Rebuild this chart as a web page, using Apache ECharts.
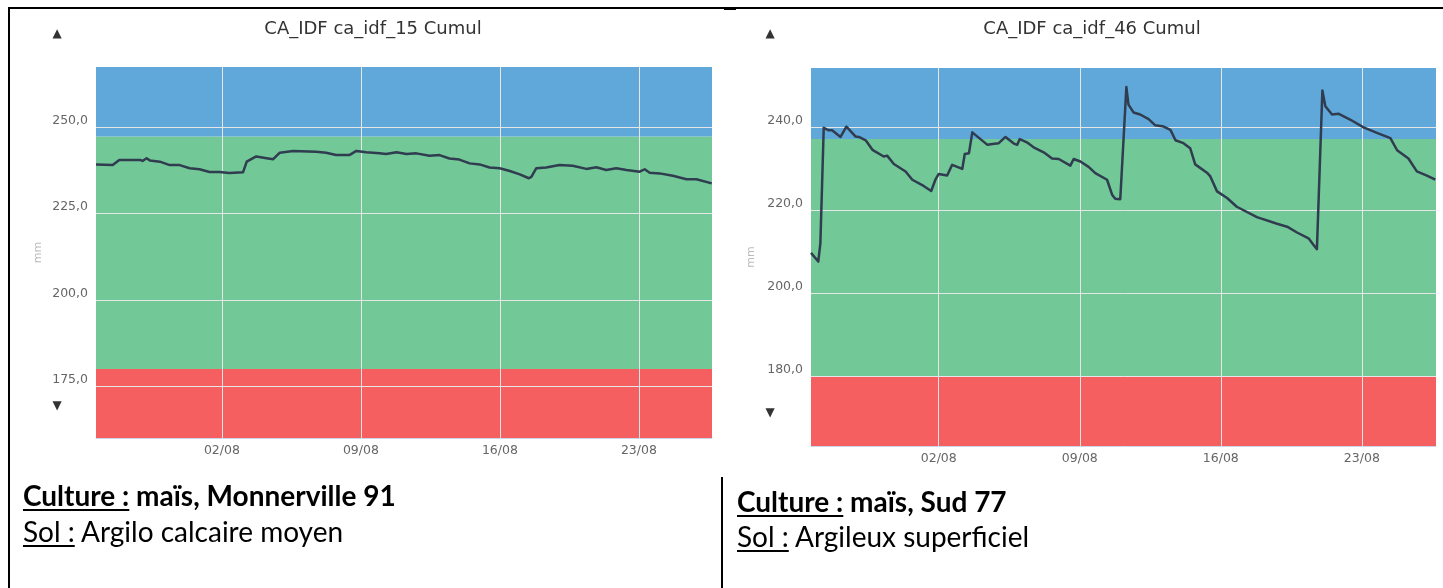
<!DOCTYPE html>
<html lang="fr">
<head>
<meta charset="UTF-8">
<title>CA_IDF Cumul</title>
<script src="https://cdn.jsdelivr.net/npm/echarts@6/dist/echarts.min.js"></script>
<style>
body{margin:0;background:#fff;overflow:hidden}
#main{position:absolute;left:0;top:0;width:1443px;height:588px}
.ln{position:absolute;background:#000}
.cap{position:absolute;font-family:Lato,'Open Sans',sans-serif;font-size:28px;line-height:36px;color:#000;white-space:nowrap}
.cap u{text-decoration-thickness:2px;text-underline-offset:3px}
</style>
</head>
<body>
<div id="main"></div>
<div class="ln" style="left:8px;top:7px;width:1435px;height:2px"></div>
<div class="ln" style="left:8px;top:7px;width:2px;height:581px"></div>
<div class="ln" style="left:721px;top:477px;width:2px;height:111px"></div>
<div class="ln" style="left:724px;top:8px;width:12px;height:2px"></div>
<div class="cap" style="left:23px;top:477px"><b><u>Culture :</u> maïs, Monnerville 91</b><br><u>Sol :</u> Argilo calcaire moyen</div>
<div class="cap" style="left:737px;top:484px;line-height:35px"><b><u>Culture :</u> maïs, Sud 77</b><br><u>Sol :</u> Argileux superficiel</div>
<script type="text/javascript">
// ---- data ----
var xTickDates = ['2019-08-02 00:00', '2019-08-09 00:00', '2019-08-16 00:00', '2019-08-23 00:00'];
var xStart = '2019-07-26 15:50';
var xEnd = '2019-08-26 16:20';

var leftTitle = 'CA_IDF ca_idf_15 Cumul';
var leftYTicks = [175, 200, 225, 250];
var leftBands = [160, 180, 247.3, 267.4];   // rouge / vert / bleu
var leftTimes = [
    '2019-07-26 15:50', '2019-07-27 12:00', '2019-07-27 20:00', '2019-07-28 21:00', '2019-07-29 00:00',
    '2019-07-29 05:00', '2019-07-29 09:00', '2019-07-29 21:00', '2019-07-30 09:00', '2019-07-30 21:00',
    '2019-07-31 09:00', '2019-07-31 21:00', '2019-08-01 09:00', '2019-08-01 21:00', '2019-08-02 09:00',
    '2019-08-03 01:30', '2019-08-03 06:00', '2019-08-03 17:30', '2019-08-04 06:00', '2019-08-04 14:00',
    '2019-08-04 22:00', '2019-08-05 14:00', '2019-08-06 18:00', '2019-08-07 06:00', '2019-08-07 18:00',
    '2019-08-08 10:00', '2019-08-08 18:30', '2019-08-09 06:30', '2019-08-09 22:30', '2019-08-10 06:30',
    '2019-08-10 19:00', '2019-08-11 07:00', '2019-08-11 19:00', '2019-08-12 11:00', '2019-08-12 23:00',
    '2019-08-13 11:00', '2019-08-13 23:00', '2019-08-14 11:30', '2019-08-14 23:30', '2019-08-15 11:30',
    '2019-08-15 23:45', '2019-08-16 12:00', '2019-08-17 00:00', '2019-08-17 11:00', '2019-08-17 14:00',
    '2019-08-17 20:00', '2019-08-18 08:00', '2019-08-19 00:00', '2019-08-19 16:00', '2019-08-20 08:30',
    '2019-08-20 20:30', '2019-08-21 08:30', '2019-08-21 20:30', '2019-08-22 09:00', '2019-08-23 01:00',
    '2019-08-23 07:00', '2019-08-23 13:00', '2019-08-24 01:00', '2019-08-24 17:00', '2019-08-25 09:30',
    '2019-08-25 21:30', '2019-08-26 16:00'
];
var leftValues = [
    239.2, 239.0, 240.5, 240.5, 240.2,
    241.0, 240.3, 240.0, 239.0, 239.0,
    238.1, 237.8, 237.0, 237.0, 236.7,
    236.9, 240.0, 241.5, 241.0, 240.7,
    242.6, 243.1, 242.9, 242.6, 241.9,
    241.9, 243.1, 242.7, 242.4, 242.2,
    242.7, 242.2, 242.4, 241.7, 241.9,
    240.9, 240.6, 239.5, 239.2, 238.3,
    238.1, 237.3, 236.3, 235.2, 235.6,
    238.1, 238.3, 239.0, 238.8, 237.9,
    238.4, 237.6, 238.1, 237.6, 237.1,
    237.8, 236.8, 236.6, 235.9, 234.9,
    234.9, 233.7
];

var rightTitle = 'CA_IDF ca_idf_46 Cumul';
var rightYTicks = [180, 200, 220, 240];
var rightBands = [163.2, 180, 237.1, 254.2];
var rightTimes = [
    '2019-07-26 15:50', '2019-07-27 00:30', '2019-07-27 03:00', '2019-07-27 07:00', '2019-07-27 13:00',
    '2019-07-27 17:00', '2019-07-28 03:00', '2019-07-28 10:00', '2019-07-28 21:00', '2019-07-29 01:00',
    '2019-07-29 09:00', '2019-07-29 17:00', '2019-07-30 06:30', '2019-07-30 10:30', '2019-07-30 18:30',
    '2019-07-31 08:30', '2019-07-31 16:30', '2019-08-01 06:00', '2019-08-01 15:00', '2019-08-01 20:00',
    '2019-08-02 00:00', '2019-08-02 10:00', '2019-08-02 16:00', '2019-08-03 04:00', '2019-08-03 07:00',
    '2019-08-03 12:00', '2019-08-03 16:00', '2019-08-04 10:00', '2019-08-04 16:00', '2019-08-04 23:30',
    '2019-08-05 07:30', '2019-08-05 17:30', '2019-08-05 21:30', '2019-08-06 00:30', '2019-08-06 09:00',
    '2019-08-06 17:00', '2019-08-07 05:00', '2019-08-07 15:00', '2019-08-07 23:00', '2019-08-08 12:45',
    '2019-08-08 16:45', '2019-08-09 00:45', '2019-08-09 10:30', '2019-08-09 18:30', '2019-08-10 08:30',
    '2019-08-10 14:30', '2019-08-10 18:15', '2019-08-11 00:15', '2019-08-11 07:30', '2019-08-11 10:00',
    '2019-08-11 16:00', '2019-08-12 00:00', '2019-08-12 10:00', '2019-08-12 18:00', '2019-08-13 04:00',
    '2019-08-13 12:00', '2019-08-13 18:00', '2019-08-14 03:30', '2019-08-14 11:30', '2019-08-14 17:30',
    '2019-08-15 07:30', '2019-08-15 11:30', '2019-08-15 19:30', '2019-08-16 07:30', '2019-08-16 19:00',
    '2019-08-17 19:00', '2019-08-18 19:00', '2019-08-19 07:00', '2019-08-19 18:45', '2019-08-20 08:30',
    '2019-08-20 14:30', '2019-08-20 18:30', '2019-08-21 01:00', '2019-08-21 04:30', '2019-08-21 12:30',
    '2019-08-21 20:00', '2019-08-22 10:00', '2019-08-23 02:00', '2019-08-23 18:00', '2019-08-24 10:00',
    '2019-08-24 18:00', '2019-08-25 07:30', '2019-08-25 17:30', '2019-08-26 05:30', '2019-08-26 15:30'
];
var rightValues = [
    209.7, 207.6, 212.0, 239.8, 239.2,
    239.2, 237.6, 240.1, 237.7, 237.6,
    236.8, 234.5, 232.9, 233.1, 231.1,
    229.3, 227.3, 225.8, 224.6, 227.3,
    228.7, 228.3, 230.9, 229.9, 233.5,
    233.7, 238.7, 235.7, 235.9, 236.1,
    237.6, 236.0, 235.7, 237.1, 236.3,
    235.1, 233.9, 232.4, 232.3, 230.7,
    232.3, 231.7, 230.4, 228.9, 227.3,
    223.7, 222.7, 222.6, 249.6, 245.4,
    243.5, 243.0, 241.9, 240.4, 240.1,
    239.3, 236.8, 236.1, 234.9, 231.0,
    229.0, 228.1, 224.5, 222.9, 220.8,
    218.3, 216.7, 216.0, 214.6, 213.2,
    211.6, 210.6, 248.8, 245.0, 243.0,
    243.2, 241.8, 239.9, 238.6, 237.3,
    234.4, 232.4, 229.3, 228.3, 227.3
];

// ---- style ----
var COL_RED = '#f65f5f';
var COL_GREEN = '#72c997';
var COL_BLUE = '#61a8da';
var COL_LINE = '#303c4f';
var COL_GRID = '#e6e6e6';
var FONT = 'DejaVu Sans';

function ts(s) {
    var p = s.split(/[- :]/);
    return new Date(+p[0], +p[1] - 1, +p[2], +p[3] || 0, +p[4] || 0).getTime();
}
function pad(n) { return (n < 10 ? '0' : '') + n; }
function dayLabel(v) {
    var d = new Date(v);
    return pad(d.getDate()) + '/' + pad(d.getMonth() + 1);
}

// x axis kept as a plain value axis holding timestamps
function makeX(idx) {
    return {
        type: 'value',
        gridIndex: idx,
        z: 2,
        min: ts(xStart),
        max: ts(xEnd),
        axisLine: {show: true, lineStyle: {color: '#ccd6eb', width: 1}},
        axisTick: {show: false, customValues: xTickDates.map(ts)},
        axisLabel: {
            customValues: xTickDates.map(ts),
            formatter: dayLabel,
            color: '#666', fontFamily: FONT, fontSize: 12.5, margin: 6
        },
        splitLine: {show: true, lineStyle: {color: COL_GRID, width: 1}}
    };
}

function makeY(idx, ticks, bands, gap) {
    return {
        type: 'value',
        gridIndex: idx,
        z: 2,
        min: bands[0],
        max: bands[3],
        name: 'mm',
        nameLocation: 'middle',
        nameGap: gap,
        nameMoveOverlap: false,
        nameTextStyle: {color: '#bbb', fontFamily: FONT, fontSize: 11},
        axisLine: {show: false},
        axisTick: {show: false, customValues: ticks},
        axisLabel: {
            customValues: ticks,
            formatter: function (v) { return v.toFixed(1).replace('.', ','); },
            color: '#666', fontFamily: FONT, fontSize: 12.5, margin: 8,
            verticalAlign: 'bottom'
        },
        splitLine: {show: true, lineStyle: {color: COL_GRID, width: 1}}
    };
}

function makeSeries(idx, times, values, bands) {
    var data = [];
    for (var i = 0; i < times.length; i++) {
        data.push([ts(times[i]), values[i]]);
    }
    return {
        type: 'line',
        xAxisIndex: idx,
        yAxisIndex: idx,
        z: 3,
        data: data,
        symbol: 'none',
        showSymbol: false,
        silent: true,
        animation: false,
        lineStyle: {color: COL_LINE, width: 2.5, join: 'round'},
        markArea: {
            silent: true,
            z: 1,
            data: [
                [{yAxis: bands[0], itemStyle: {color: COL_RED}}, {yAxis: bands[1]}],
                [{yAxis: bands[1], itemStyle: {color: COL_GREEN}}, {yAxis: bands[2]}],
                [{yAxis: bands[2], itemStyle: {color: COL_BLUE}}, {yAxis: bands[3]}]
            ]
        }
    };
}

function txt(x, y, s, size, color) {
    return {
        type: 'text', x: x, y: y, silent: true,
        style: {text: s, fill: color, fontFamily: FONT, fontSize: size, align: 'center', verticalAlign: 'middle'}
    };
}

var myChart = echarts.init(document.getElementById('main'), null, {renderer: 'canvas'});

myChart.setOption({
    backgroundColor: 'transparent',
    animation: false,
    grid: [
        {left: 96, top: 67, width: 616, height: 371, containLabel: false, outerBoundsMode: 'none'},
        {left: 811, top: 68, width: 625, height: 378, containLabel: false, outerBoundsMode: 'none'}
    ],
    xAxis: [makeX(0), makeX(1)],
    yAxis: [makeY(0, leftYTicks, leftBands, 52), makeY(1, rightYTicks, rightBands, 54)],
    series: [
        makeSeries(0, leftTimes, leftValues, leftBands),
        makeSeries(1, rightTimes, rightValues, rightBands)
    ],
    graphic: [
        txt(373, 29, leftTitle, 18, '#333'),
        txt(1092, 29, rightTitle, 18, '#333'),
        txt(57, 34, '\u25B2', 12, '#333'),
        txt(57, 406, '\u25BC', 12, '#333'),
        txt(770, 34, '\u25B2', 12, '#333'),
        txt(770, 413, '\u25BC', 12, '#333')
    ]
});
</script>
</body>
</html>
